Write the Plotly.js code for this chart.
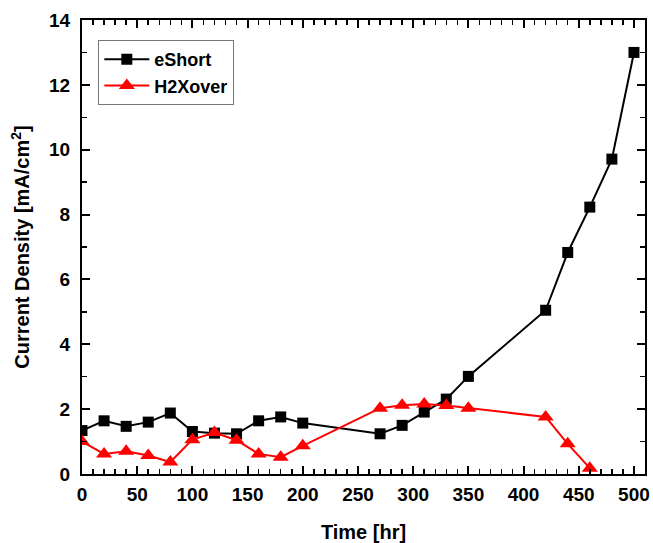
<!DOCTYPE html>
<html><head><meta charset="utf-8">
<script src="https://cdn.plot.ly/plotly-3.0.1.min.js"></script>
<style>html,body{margin:0;padding:0;background:#fff}#c{width:653px;height:543px}</style>
</head><body><div id="c"></div>
<script>
const eShortTime = [0,20,40,60,80,100,120,140,160,180,200,270,290,310,330,350,420,440,460,480,500];
const eShortValues = [1.34,1.64,1.47,1.60,1.88,1.31,1.26,1.24,1.64,1.76,1.57,1.24,1.50,1.91,2.31,3.01,5.05,6.83,8.23,9.71,13.0];
const h2Time = [0,20,40,60,80,100,120,140,160,180,200,270,290,310,330,350,420,440,460];
const h2Values = [1.0,0.62,0.70,0.57,0.37,1.06,1.28,1.04,0.62,0.52,0.87,2.03,2.12,2.16,2.11,2.03,1.76,0.93,0.18];
const xTickVals = [0,50,100,150,200,250,300,350,400,450,500];
const yTickVals = [0,2,4,6,8,10,12,14];

const F = 'Liberation Sans, Arial, sans-serif';
const traces = [
  {x: eShortTime, y: eShortValues, name: 'eShort', mode: 'lines+markers',
   line: {color: '#000', width: 2}, marker: {symbol: 'square', size: 11, color: '#000'}},
  {x: h2Time, y: h2Values, name: 'H2Xover', mode: 'lines+markers',
   line: {color: '#ff0000', width: 2}, marker: {symbol: 'triangle-up', size: 14, color: '#ff0000'}}
];
const axisCommon = {showgrid: false, zeroline: false, showline: true, linecolor: '#000', linewidth: 2,
  mirror: 'ticks', ticks: 'inside', ticklen: 8, tickwidth: 2, tickcolor: '#000',
  tickfont: {family: F, size: 19, color: '#000', weight: 'bold'}};
const layout = {
  width: 653, height: 543, paper_bgcolor: '#fff', plot_bgcolor: '#fff',
  margin: {l: 82, r: 8, t: 20, b: 69},
  showlegend: true,
  legend: {x: 0.029, y: 0.956, xanchor: 'left', yanchor: 'top', bgcolor: '#fff',
    bordercolor: '#777', borderwidth: 1, font: {family: F, size: 18, color: '#000', weight: 'bold'},
    tracegroupgap: 0, itemwidth: 45},
  xaxis: Object.assign({}, axisCommon, {range: [0, 510], tickvals: xTickVals, ticklabelstandoff: 2,
    minor: {dtick: 10, tick0: 0, ticks: 'inside', ticklen: 5, tickwidth: 1.5, tickcolor: '#000'},
    title: {text: 'Time [hr]', font: {family: F, size: 20, color: '#000', weight: 'bold'}, standoff: 24}}),
  yaxis: Object.assign({}, axisCommon, {range: [0, 14], tickvals: yTickVals, ticklabelstandoff: 6,
    minor: {dtick: 1, tick0: 0, ticks: 'inside', ticklen: 5, tickwidth: 1.5, tickcolor: '#000'},
    title: {text: 'Current Density [mA/cm<sup>2</sup>]', font: {family: F, size: 20, color: '#000', weight: 'bold'}, standoff: 14}})
};
Plotly.newPlot('c', traces, layout, {displayModeBar: false, staticPlot: true});
</script></body></html>
